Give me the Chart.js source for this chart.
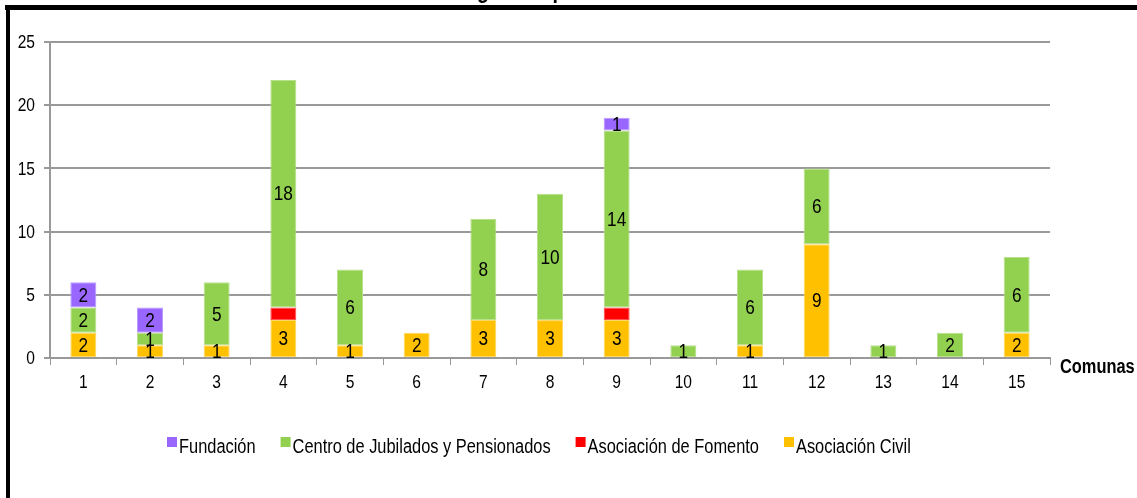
<!DOCTYPE html>
<html>
<head>
<meta charset="utf-8">
<script src="https://cdn.jsdelivr.net/npm/chart.js@4/dist/chart.umd.min.js"></script>
<style>
    html, body { margin: 0; padding: 0; background: #fff; overflow: hidden; }
    #wrap { position: relative; width: 1137px; height: 498px; }
</style>
</head>
<body>
<div id="wrap"><canvas id="chart" width="1137" height="498"></canvas></div>
<script>
// Data
const comunas = ['1', '2', '3', '4', '5', '6', '7', '8', '9', '10', '11', '12', '13', '14', '15'];
const asociacionCivil   = [2, 1, 1, 3, 1, 2, 3, 3, 3, 0, 1, 9, 0, 0, 2];
const asociacionFomento = [0, 0, 0, 1, 0, 0, 0, 0, 1, 0, 0, 0, 0, 0, 0];
const centroJubilados   = [2, 1, 5, 18, 6, 0, 8, 10, 14, 1, 6, 6, 1, 2, 6];
const fundacion         = [2, 2, 0, 0, 0, 0, 0, 0, 1, 0, 0, 0, 0, 0, 0];
const yTicks = [0, 5, 10, 15, 20, 25];

// no narrow font installed: squeeze Liberation Sans to look like Arial Narrow
const FONT = "'Liberation Sans', Arial, sans-serif";
const SX = 0.82;
const TITLE = 'Instituciones según el tipo';
const AXIS_TITLE = 'Comunas';

const COLORS = {
    civil: '#FFC000',
    fomento: '#FF0000',
    centro: '#92D050',
    fundacion: '#9966FF'
};
const EDGES = {
    civil: '#FFD966',
    fomento: '#FF5050',
    centro: '#B6E08A',
    fundacion: '#B89BFF'
};

// legend order as in the reference (top of stack first)
const legendItems = [
    { text: 'Fundación', color: COLORS.fundacion },
    { text: 'Centro de Jubilados y Pensionados', color: COLORS.centro },
    { text: 'Asociación de Fomento', color: COLORS.fomento },
    { text: 'Asociación Civil', color: COLORS.civil }
];

function makeDataset(label, data, key, showLabels) {
    return {
        label: label,
        data: data,
        backgroundColor: COLORS[key],
        borderColor: EDGES[key],
        borderWidth: c => (c.raw ? 1 : 0),
        borderSkipped: false,
        showLabels: showLabels
    };
}

/**
 * Draw condensed text, returns drawn width
 */
function narrowText(ctx, text, x, y, size, weight, align) {
    ctx.save();
    ctx.font = (weight || 'normal') + ' ' + size + 'px ' + FONT;
    ctx.textAlign = align || 'left';
    const w = ctx.measureText(text).width * SX;
    ctx.translate(x, y);
    ctx.scale(SX, 1);
    ctx.fillText(text, 0, 0);
    ctx.restore();
    return w;
}

/**
 * Frame, clipped title, tick labels, value labels, axis title and legend
 */
const decorPlugin = {
    id: 'decor',
    beforeDraw(chart) {
        const ctx = chart.ctx;
        ctx.save();
        ctx.fillStyle = '#fff';
        ctx.fillRect(0, 0, chart.width, chart.height);
        ctx.restore();
    },
    afterDatasetsDraw(chart) {
        const ctx = chart.ctx;
        ctx.save();
        ctx.fillStyle = '#000';
        ctx.textBaseline = 'middle';
        chart.data.datasets.forEach((ds, i) => {
            if (!ds.showLabels) return;
            chart.getDatasetMeta(i).data.forEach((bar, j) => {
                const v = ds.data[j];
                if (!v) return;
                narrowText(ctx, String(v), bar.x, (bar.y + bar.base) / 2 + 1, 21, 'normal', 'center');
            });
        });
        ctx.restore();
    },
    afterDraw(chart) {
        const ctx = chart.ctx;
        const area = chart.chartArea;
        const xs = chart.scales.x;
        const ys = chart.scales.y;
        ctx.save();
        ctx.fillStyle = '#000';

        // outer frame (only top and left edges are visible)
        ctx.fillRect(5, 5, chart.width, 5);
        ctx.fillRect(6, 5, 4, chart.height);

        // tick labels
        ctx.textBaseline = 'middle';
        ys.ticks.forEach(t => {
            narrowText(ctx, String(t.value), area.left - 15, ys.getPixelForValue(t.value) + 1, 19, 'normal', 'right');
        });
        xs.ticks.forEach((t, i) => {
            narrowText(ctx, comunas[t.value], xs.getPixelForTick(i), area.bottom + 25, 19, 'normal', 'center');
        });

        // x axis title
        narrowText(ctx, AXIS_TITLE, area.right + 10, area.bottom + 9, 20, 'bold', 'left');

        // title, mostly cut off by the top edge
        ctx.textBaseline = 'alphabetic';
        ctx.font = 'bold 24px ' + FONT;
        const gPos = TITLE.indexOf('g');
        const pre = ctx.measureText(TITLE.slice(0, gPos)).width * SX;
        const gw = ctx.measureText('g').width * SX;
        narrowText(ctx, TITLE, 483 - pre - gw / 2, -2, 24, 'bold', 'left');

        // legend
        let x = 167;
        const y = 453;
        legendItems.forEach(item => {
            ctx.fillStyle = item.color;
            ctx.fillRect(x, y - 16, 10, 10);
            ctx.fillStyle = '#000';
            const w = narrowText(ctx, item.text, x + 12, y, 20, 'normal', 'left');
            x += 12 + w + 25;
        });
        ctx.restore();
    }
};

const chart = new Chart(document.getElementById('chart'), {
    type: 'bar',
    data: {
        labels: comunas,
        datasets: [
            makeDataset('Asociación Civil', asociacionCivil, 'civil', true),
            makeDataset('Asociación de Fomento', asociacionFomento, 'fomento', false),
            makeDataset('Centro de Jubilados y Pensionados', centroJubilados, 'centro', true),
            makeDataset('Fundación', fundacion, 'fundacion', true)
        ]
    },
    options: {
        responsive: false,
        animation: false,
        devicePixelRatio: 1,
        layout: { padding: { left: 0, right: 87, top: 42, bottom: 0 } },
        plugins: {
            legend: { display: false },
            title: { display: false },
            tooltip: { enabled: false }
        },
        datasets: {
            bar: { categoryPercentage: 1, barPercentage: 0.39 }
        },
        scales: {
            x: {
                stacked: true,
                offset: true,
                afterFit: s => { s.height = 140; },
                grid: {
                    offset: true,
                    drawOnChartArea: false,
                    color: '#999',
                    lineWidth: 1,
                    tickLength: 7
                },
                border: { color: '#999', width: 2 },
                ticks: { display: false }
            },
            y: {
                stacked: true,
                min: 0,
                max: 25,
                afterFit: s => { s.width = 50; },
                afterBuildTicks: s => { s.ticks = yTicks.map(v => ({ value: v })); },
                grid: {
                    color: '#999',
                    lineWidth: 2,
                    tickLength: 6
                },
                border: { color: '#999', width: 2 },
                ticks: { display: false }
            }
        }
    },
    plugins: [decorPlugin]
});
</script>
</body>
</html>
